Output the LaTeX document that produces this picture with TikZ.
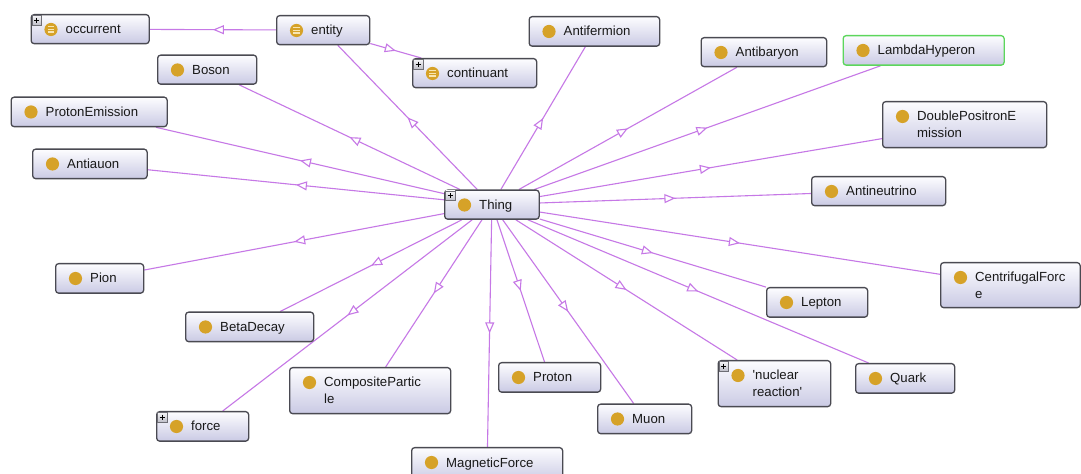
\documentclass[tikz,border=0pt]{standalone}
\usepackage{fontspec}
\setmainfont{Liberation Sans}
\usetikzlibrary{arrows.meta,decorations.markings,calc}

\definecolor{edgecol}{RGB}{198,120,230}
\definecolor{boxtop}{RGB}{253,253,255}
\definecolor{boxbot}{RGB}{202,202,228}
\definecolor{boxline}{RGB}{74,74,82}
\definecolor{selline}{RGB}{92,214,92}
\definecolor{iconcol}{RGB}{214,162,40}
\definecolor{iconbar}{RGB}{248,230,178}
\definecolor{plustop}{RGB}{245,245,248}
\definecolor{plusbot}{RGB}{190,190,200}

\pgfdeclarelayer{background}
\pgfdeclarelayer{edges}
\pgfsetlayers{background,edges,main}

\tikzset{
  clsbox/.style={draw=boxline, line width=1.3bp, rounded corners=3bp,
    top color=boxtop, bottom color=boxbot, anchor=north west, inner sep=0pt},
  clslabel/.style={anchor=base west, inner sep=0pt, text=black!90,
    font=\fontsize{13.2bp}{16.7bp}\selectfont},
  selected/.style={draw=selline},
  isa/.style={draw=edgecol, line width=1.1bp, postaction={decorate},
    decoration={markings, mark=at position 0.5 with
      {\arrow{Triangle[length=11bp,width=9bp,fill=white,line width=1.1bp]}}}},
  plusbox/.style={draw=boxline!80, line width=0.6bp, top color=plustop, bottom color=plusbot},
}

% class box: [style] name, left, top, width, height, label
\newcommand{\klass}[7][]{%
  \node[clsbox,minimum width=#5bp,minimum height=#6bp,#1] (#2) at (#3,#4) {};
  \fill[iconcol] ($(#2.north west)+(20.5,15.5)$) circle (6.6bp);
  \node[clslabel] (#2-txt) at ($(#2.north west)+(35,20)$) {#7};
}
% label set on two lines
\newcommand{\twolines}[2]{\vtop{\hbox{#1}\hbox{#2}}}
% bars inside the icon of a named class
\newcommand{\baricon}[1]{%
  \foreach \dy in {-2.6,0,2.6}
    \draw[iconbar, line width=1.2bp] ($(#1.north west)+(17.4,15.5+\dy)$) -- ++(6.2,0);
}
% expand marker at the top left corner
\newcommand{\plusicon}[1]{%
  \path[plusbox] ($(#1.north west)+(1.5,1.5)$) rectangle ++(9.5,9.5);
  \draw[black, line width=1bp] ($(#1.north west)+(3.6,6.25)$) -- ++(5.3,0)
    ($(#1.north west)+(6.25,3.6)$) -- ++(0,5.3);
}

\begin{document}
\begin{tikzpicture}[x=1bp,y=-1bp]
  \useasboundingbox (0,0) rectangle (1081,474);
  \begin{pgfonlayer}{background}
    \fill[white] (0,0) rectangle (1081,474);
  \end{pgfonlayer}
  \begin{scope}
  \clip (0,0) rectangle (1081,474);

  % named classes
  \klass{occurrent}{30.5}{14}{118}{29}{occurrent}
  \baricon{occurrent}\plusicon{occurrent}
  \klass{entity}{276}{15}{93}{29}{entity}
  \baricon{entity}
  \klass{continuant}{412}{58}{124}{29}{continuant}
  \baricon{continuant}\plusicon{continuant}

  % root
  \klass{thing}{444}{189.5}{94.5}{29}{Thing}
  \plusicon{thing}

  % top half
  \klass{boson}{157}{54.5}{99}{29}{Boson}
  \klass{antifermion}{528.5}{16}{130.5}{29.5}{Antifermion}
  \klass{antibaryon}{700.5}{37}{125.5}{29}{Antibaryon}
  \klass[selected]{lambda}{842.5}{35}{161}{29.5}{LambdaHyperon}
  \klass{protonemission}{10.5}{96.5}{156}{29.5}{ProtonEmission}
  \klass{dpe}{882}{101}{164}{46}{\twolines{DoublePositronE}{mission}}
  \klass{antiauon}{32}{148.5}{114.5}{29.5}{Antiauon}
  \klass{antineutrino}{811}{176}{134}{29}{Antineutrino}

  % bottom half
  \klass{pion}{55}{263}{88}{29.5}{Pion}
  \klass{centrifugal}{940}{262}{139.5}{45}{\twolines{CentrifugalForc}{e}}
  \klass{lepton}{766}{287}{101}{29.5}{Lepton}
  \klass{betadecay}{185}{311.5}{128}{29.5}{BetaDecay}
  \klass{composite}{289}{367}{161}{46}{\twolines{CompositePartic}{le}}
  \klass{proton}{498}{362}{102}{29.5}{Proton}
  \klass{nuclear}{717.5}{360}{112.5}{46}{\twolines{\textquotesingle nuclear}{reaction\textquotesingle}}
  \plusicon{nuclear}
  \klass{quark}{855}{363}{99}{29.5}{Quark}
  \klass{force}{156}{411}{92}{29.5}{force}
  \plusicon{force}
  \klass{muon}{597}{403.5}{94}{29.5}{Muon}
  \klass{magnetic}{411}{447}{151}{34}{MagneticForce}
  \end{scope}

  % subclass links
  \begin{pgfonlayer}{edges}
    \draw[isa] (entity) -- (occurrent);
    \draw[isa] (entity) -- (continuant);
    \foreach \c in {entity,boson,antifermion,antibaryon,lambda,protonemission,
                    dpe,antiauon,antineutrino,pion,centrifugal,lepton,betadecay,
                    composite,proton,nuclear,quark,force,muon,magnetic}
      \draw[isa] (thing) -- (\c);
  \end{pgfonlayer}
\end{tikzpicture}
\end{document}
